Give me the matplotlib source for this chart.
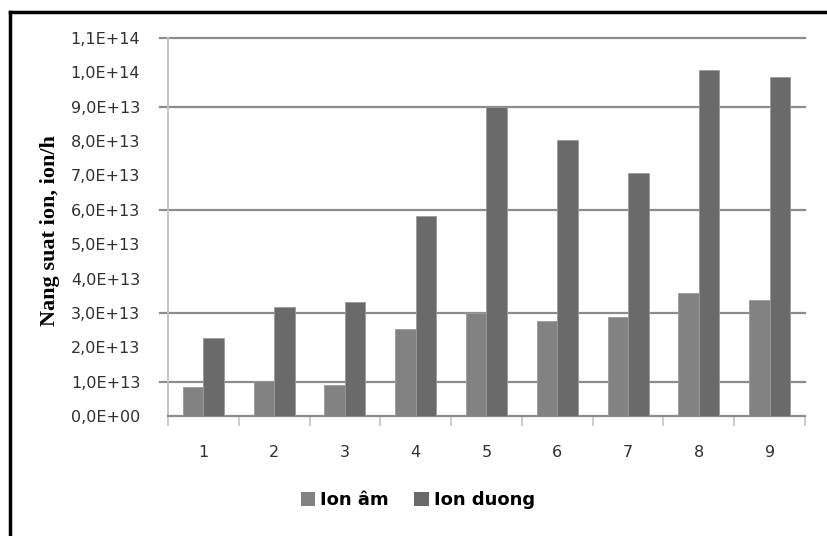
import matplotlib
matplotlib.use("Agg")
import matplotlib.pyplot as plt
from matplotlib.lines import Line2D
from matplotlib.patches import Patch
import numpy as np

# Data
categories = ["1", "2", "3", "4", "5", "6", "7", "8", "9"]
ion_am = [0.85e13, 1.02e13, 0.90e13, 2.53e13, 3.01e13, 2.76e13, 2.89e13, 3.59e13, 3.37e13]
ion_duong = [2.28e13, 3.17e13, 3.31e13, 5.82e13, 9.00e13, 8.03e13, 7.06e13, 10.08e13, 9.87e13]
y_ticks = [i * 1e13 for i in range(12)]
y_tick_labels = ["0,0E+00", "1,0E+13", "2,0E+13", "3,0E+13", "4,0E+13", "5,0E+13",
                 "6,0E+13", "7,0E+13", "8,0E+13", "9,0E+13", "1,0E+14", "1,1E+14"]
grid_values = [1e13, 3e13, 6e13, 9e13, 11e13]
series_names = ["Ion âm", "Ion duong"]

color_am = "#828282"
color_duong = "#6a6a6a"
grid_color = "#8c8c8c"
tick_font = "DejaVu Sans"

fig = plt.figure(figsize=(8.28, 5.36), dpi=100)
ax = fig.add_axes([168 / 828, 1 - 416 / 536, (805 - 168) / 828, (416 - 38) / 536])

x = np.arange(1, len(categories) + 1)
w = 0.29
ax.bar(x - w / 2, ion_am, width=w, color=color_am, edgecolor="#9a9a9a", linewidth=0.6, zorder=3)
ax.bar(x + w / 2, ion_duong, width=w, color=color_duong, edgecolor="#9a9a9a", linewidth=0.6, zorder=3)

# Horizontal gridlines
for gv in grid_values:
    ax.axhline(gv, color=grid_color, linewidth=1.6, zorder=1, xmin=-0.012, clip_on=False)

ax.set_xlim(0.5, len(categories) + 0.5)
ax.set_ylim(0, 1.1e14)

# Spines
for s in ["top", "right"]:
    ax.spines[s].set_visible(False)
ax.spines["left"].set_color("#c4c4c4")
ax.spines["left"].set_linewidth(1.4)
ax.spines["bottom"].set_color(grid_color)
ax.spines["bottom"].set_linewidth(1.6)

# Y axis ticks
ax.set_yticks(y_ticks)
ax.set_yticklabels(y_tick_labels, fontsize=11.5, color="#303030", family=tick_font)
ax.tick_params(axis="y", length=0, pad=20)

# X axis: labels at centers, tick marks at category boundaries
ax.set_xticks(x)
ax.set_xticklabels(categories, fontsize=11.5, color="#303030", family=tick_font)
ax.tick_params(axis="x", which="major", length=0, pad=21)
ax.set_xticks(np.arange(0.5, len(categories) + 1, 1.0), minor=True)
ax.tick_params(axis="x", which="minor", length=7, width=1.2, color="#c4c4c4", direction="out")

# Y label
fig.text(50 / 828, 1 - 231 / 536, "Nang suat ion, ion/h", rotation=90,
         ha="center", va="center", fontsize=16, fontweight="bold",
         family="Liberation Serif", color="black")

# Legend
handles = [Patch(facecolor=color_am, edgecolor="none"),
           Patch(facecolor=color_duong, edgecolor="none")]
fig.legend(handles, series_names, loc="center", bbox_to_anchor=(418 / 828, 1 - 500 / 536),
           ncol=2, frameon=False, handlelength=0.8, handleheight=0.8,
           handletextpad=0.3, columnspacing=1.4,
           prop={"family": "DejaVu Sans", "weight": "bold", "size": 13})

# Outer frame (left and top edges)
fig.add_artist(Line2D([10 / 828, 10 / 828], [0, 1 - 12 / 536], color="black", linewidth=2.5,
                      transform=fig.transFigure))
fig.add_artist(Line2D([10 / 828, 1], [1 - 12 / 536, 1 - 12 / 536], color="black", linewidth=2.5,
                      transform=fig.transFigure))

fig.savefig("out.png", dpi=100, facecolor="white")
